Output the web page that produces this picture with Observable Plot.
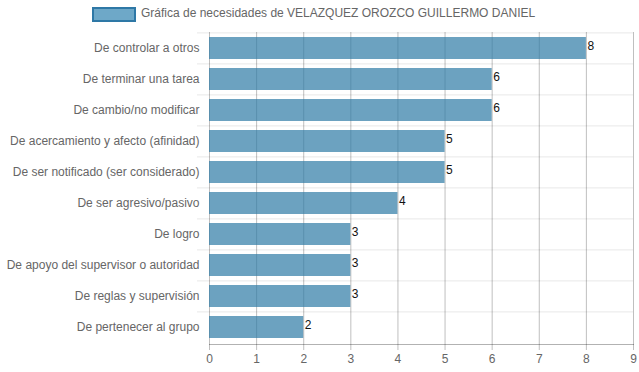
<!DOCTYPE html>
<html>
<head>
<meta charset="utf-8">
<script src="https://cdn.jsdelivr.net/npm/d3@7"></script>
<script src="https://cdn.jsdelivr.net/npm/@observablehq/plot@0.6"></script>
<style>
  html, body { margin: 0; padding: 0; background: #fff; }
  body { width: 639px; height: 372px; overflow: hidden; font-family: "Liberation Sans", Arial, sans-serif; }
  #legend { height: 28px; position: relative; }
  #legend .box { position: absolute; left: 92px; top: 7px; width: 40px; height: 11px; background: #6ea8c8; border: 2px solid #2e78a6; }
  #legend .lab { position: absolute; left: 141px; top: 6px; font-size: 12px; color: #666; }
</style>
</head>
<body>
<div id="legend"><div class="box"></div><div class="lab">Gráfica de necesidades de VELAZQUEZ OROZCO GUILLERMO DANIEL</div></div>
<div id="chart"></div>
<script>
const categories = [
  "De controlar a otros",
  "De terminar una tarea",
  "De cambio/no modificar",
  "De acercamiento y afecto (afinidad)",
  "De ser notificado (ser considerado)",
  "De ser agresivo/pasivo",
  "De logro",
  "De apoyo del supervisor o autoridad",
  "De reglas y supervisión",
  "De pertenecer al grupo"
];
const values = [8, 6, 6, 5, 5, 4, 3, 3, 3, 2];
const xTicks = [0, 1, 2, 3, 4, 5, 6, 7, 8, 9];

const data = categories.map((c, i) => ({category: c, value: values[i]}));

const H = 344, mTop = 4, mBottom = 28;
const step = (H - mTop - mBottom) / categories.length;

const chart = Plot.plot({
  width: 639,
  height: H,
  marginLeft: 209,
  marginRight: 6,
  marginTop: mTop,
  marginBottom: mBottom,
  style: {fontFamily: "Liberation Sans, Arial, sans-serif", fontSize: "12px", color: "#666", background: "#fff"},
  x: {domain: [0, 9], ticks: xTicks, label: null},
  y: {domain: categories, paddingInner: 0.28, paddingOuter: 0.14, label: null},
  marks: [
    // horizontal separators between categories (light)
    Plot.gridY(categories, {dy: -step / 2, stroke: "#e8e8e8", strokeOpacity: 1, strokeWidth: 1}),
    Plot.axisY({tickSize: 12, tickFormat: () => "", dy: -step / 2, stroke: "#e8e8e8", label: null}),
    // vertical grid
    Plot.gridX(xTicks, {stroke: "#000", strokeOpacity: 0.25, strokeWidth: 1}),
    Plot.barX(data, {x: "value", y: "category", fill: "rgb(46,122,165)", fillOpacity: 0.7}),
    Plot.axisX({ticks: xTicks, tickSize: 6, tickPadding: 4, stroke: "#000", strokeOpacity: 0.25, color: "#666", fontSize: 12, label: null}),
    Plot.axisY({tickSize: 0, tickPadding: 10, color: "#666", fontSize: 12, label: null}),
    Plot.frame({anchor: "bottom", stroke: "#000", strokeOpacity: 0.3}),
    Plot.text(data, {x: "value", y: "category", text: d => String(d.value), textAnchor: "start", dx: 1, dy: -2, fill: "#111", fontSize: 12})
  ]
});
document.getElementById("chart").appendChild(chart);
</script>
</body>
</html>
